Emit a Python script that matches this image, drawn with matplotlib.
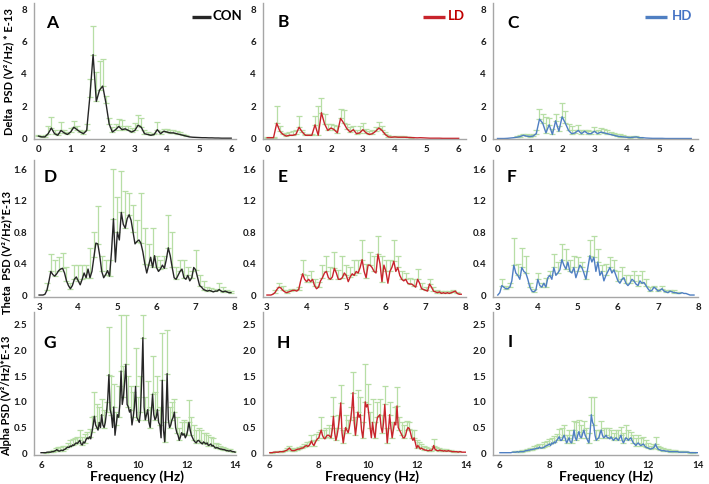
import numpy as np
import matplotlib
matplotlib.use('Agg')
import matplotlib.pyplot as plt
from matplotlib.lines import Line2D

plt.rcParams['font.family'] = ['Lato', 'DejaVu Sans']
plt.rcParams['font.weight'] = 'bold'

# ---------------- data ----------------
delta_freq = np.round(np.arange(61) * 0.1, 2)          # 0 .. 6 Hz
theta_freq = np.round(3.0 + np.arange(99) * 0.05, 2)   # 3 .. 7.9 Hz
alpha_freq = np.round(6.0 + np.arange(161) * 0.05, 2)  # 6 .. 14 Hz

con_delta = [0.15,0.10,0.10,0.30,0.65,0.30,0.20,0.50,0.35,0.25,
             0.40,0.70,0.55,0.40,0.30,0.50,2.60,5.20,2.30,3.00,
             3.25,2.20,0.90,0.40,0.55,0.75,0.55,0.60,0.50,0.40,
             0.50,0.82,0.70,0.30,0.25,0.20,0.25,0.55,0.30,0.45,
             0.40,0.35,0.35,0.30,0.25,0.20,0.15,0.10,0.08,0.07,
             0.06,0.05,0.05,0.04,0.04,0.03,0.03,0.02,0.02,0.02,0.02]
con_delta_top = [0.20,0.15,0.20,0.80,1.35,0.50,0.35,1.00,0.55,0.40,
                 0.65,1.10,0.80,0.55,0.45,0.90,3.70,7.00,4.10,4.80,
                 4.90,2.65,1.25,0.70,0.90,1.20,1.15,0.80,0.75,0.65,
                 0.95,1.45,1.25,0.50,0.40,0.30,0.35,1.00,0.45,0.60,
                 0.60,0.55,0.50,0.45,0.40,0.30,0.20,0.12,0.10,0.08,
                 0.07,0.06,0.06,0.05,0.05,0.04,0.04,0.03,0.03,0.03,0.03]

ld_delta = [0.05,0.05,0.05,0.95,0.45,0.25,0.15,0.20,0.20,0.25,
            0.70,0.40,0.20,0.20,0.20,0.85,0.20,1.60,0.90,0.50,
            0.65,0.55,0.35,1.25,0.95,0.60,0.40,0.55,0.30,0.35,
            0.55,0.35,0.25,0.30,0.45,0.65,0.50,0.25,0.10,0.08,
            0.10,0.08,0.08,0.08,0.07,0.06,0.05,0.04,0.05,0.04,
            0.03,0.02,0.02,0.02,0.02,0.01,0.01,0.01,0.01,0.01,0.01]
ld_delta_top = [0.10,0.12,0.10,2.00,0.75,0.35,0.35,0.40,0.45,0.50,
                1.40,0.50,0.30,0.30,0.30,1.40,2.00,2.50,1.50,0.90,
                0.90,0.85,0.75,1.80,1.75,0.90,0.70,0.80,0.50,0.75,
                0.95,0.60,0.45,0.50,0.70,1.00,0.80,0.40,0.20,0.15,
                0.15,0.15,0.15,0.15,0.12,0.10,0.08,0.07,0.07,0.06,
                0.05,0.04,0.03,0.03,0.03,0.02,0.02,0.02,0.02,0.02,0.02]

hd_delta = [0.00,0.00,0.00,0.01,0.03,0.05,0.08,0.12,0.20,0.15,
            0.12,0.15,0.30,1.20,0.95,0.35,0.85,0.25,1.10,0.45,
            1.35,0.95,0.50,0.30,0.35,0.50,0.30,0.45,0.30,0.30,
            0.45,0.30,0.40,0.35,0.30,0.25,0.20,0.15,0.12,0.10,
            0.08,0.06,0.08,0.10,0.05,0.05,0.03,0.02,0.01,0.01,
            0.01,0.01,0.00,0.00,0.00,0.00,0.00,0.00,0.00,0.00,0.00]
hd_delta_top = [0.00,0.00,0.00,0.02,0.05,0.08,0.15,0.20,0.30,0.25,
                0.20,0.30,0.50,1.85,1.50,1.35,1.30,0.60,1.55,0.80,
                2.20,1.70,0.90,0.80,0.55,0.85,0.55,0.55,0.50,0.45,
                0.70,0.55,0.65,0.60,0.50,0.40,0.35,0.30,0.25,0.20,
                0.15,0.12,0.15,0.15,0.10,0.08,0.05,0.03,0.02,0.02,
                0.02,0.01,0.00,0.00,0.00,0.00,0.00,0.00,0.00,0.00,0.00]

con_theta = [0.00,0.00,0.00,0.01,0.06,0.17,0.30,0.26,0.24,0.27,
             0.31,0.33,0.34,0.28,0.18,0.12,0.08,0.12,0.20,0.23,
             0.18,0.13,0.20,0.28,0.22,0.33,0.22,0.30,0.48,0.66,
             0.65,0.50,0.30,0.22,0.26,0.31,0.24,0.55,0.97,0.42,
             0.80,0.70,1.05,0.90,0.85,0.97,1.02,0.95,0.80,0.65,
             0.68,0.70,0.66,0.55,0.40,0.28,0.38,0.48,0.35,0.50,
             0.35,0.30,0.33,0.38,0.34,0.45,0.60,0.50,0.35,0.22,
             0.20,0.25,0.30,0.33,0.22,0.20,0.25,0.18,0.22,0.35,
             0.32,0.22,0.12,0.10,0.07,0.06,0.05,0.06,0.05,0.04,
             0.05,0.05,0.07,0.05,0.04,0.05,0.04,0.03,0.03]
con_theta_top = [0.01,0.01,0.15,0.52,0.45,0.48,0.53,0.35,0.15,0.38,
                 0.38,0.38,0.38,0.60,0.80,1.13,0.50,0.45,0.45,1.60,
                 1.25,1.57,1.32,1.30,1.15,0.95,1.30,0.85,0.65,0.85,
                 0.50,0.45,0.50,1.02,0.80,0.35,0.45,0.45,0.35,0.30,
                 0.57,0.25,0.18,0.10,0.09,0.08,0.15,0.10,0.07,0.05]

ld_theta = [0.00,0.00,0.00,0.01,0.03,0.07,0.10,0.09,0.06,0.04,
            0.03,0.04,0.05,0.06,0.06,0.05,0.07,0.18,0.27,0.20,
            0.17,0.20,0.17,0.20,0.12,0.08,0.10,0.18,0.22,0.28,
            0.30,0.22,0.20,0.23,0.34,0.28,0.20,0.20,0.22,0.28,
            0.25,0.17,0.23,0.27,0.25,0.30,0.28,0.35,0.45,0.30,
            0.22,0.38,0.38,0.35,0.30,0.28,0.52,0.40,0.17,0.38,
            0.30,0.15,0.30,0.35,0.43,0.30,0.35,0.25,0.20,0.18,
            0.20,0.15,0.14,0.14,0.12,0.10,0.20,0.15,0.08,0.07,
            0.06,0.05,0.14,0.10,0.05,0.04,0.03,0.04,0.02,0.03,
            0.02,0.03,0.02,0.03,0.04,0.05,0.02,0.01,0.01]
ld_theta_top = [0.01,0.01,0.06,0.15,0.12,0.06,0.08,0.08,0.10,0.44,
                0.25,0.30,0.20,0.16,0.38,0.50,0.35,0.55,0.32,0.49,
                0.38,0.35,0.45,0.45,0.70,0.40,0.55,0.50,0.75,0.50,
                0.45,0.45,0.70,0.50,0.30,0.28,0.22,0.20,0.33,0.15,
                0.10,0.20,0.10,0.06,0.05,0.05,0.05,0.07,0.04,0.02]

hd_theta = [0.00,0.03,0.12,0.10,0.08,0.08,0.10,0.18,0.38,0.28,
            0.25,0.20,0.35,0.30,0.28,0.20,0.10,0.05,0.04,0.06,
            0.20,0.12,0.10,0.15,0.10,0.22,0.25,0.20,0.35,0.25,
            0.28,0.32,0.45,0.38,0.33,0.42,0.30,0.28,0.35,0.22,
            0.30,0.38,0.35,0.28,0.20,0.35,0.50,0.42,0.48,0.30,
            0.42,0.25,0.30,0.18,0.25,0.30,0.35,0.28,0.32,0.25,
            0.18,0.15,0.20,0.22,0.15,0.12,0.15,0.20,0.18,0.14,
            0.12,0.18,0.15,0.16,0.12,0.08,0.05,0.06,0.10,0.08,
            0.05,0.06,0.08,0.05,0.04,0.03,0.05,0.04,0.03,0.03,
            0.02,0.02,0.03,0.02,0.02,0.01,0.00,0.00,0.00]
hd_theta_top = [0.01,0.20,0.12,0.15,0.72,0.40,0.60,0.50,0.15,0.08,
                0.28,0.15,0.22,0.30,0.52,0.42,0.65,0.58,0.45,0.50,
                0.48,0.42,0.30,0.70,0.75,0.58,0.38,0.40,0.48,0.45,
                0.30,0.35,0.25,0.25,0.30,0.25,0.30,0.20,0.10,0.12,
                0.08,0.12,0.07,0.07,0.06,0.04,0.04,0.02,0.01,0.00]

con_alpha = [0.01,0.01,0.01,0.01,0.01,0.02,0.02,0.02,0.02,0.03,
             0.03,0.04,0.05,0.07,0.05,0.04,0.05,0.06,0.05,0.07,
             0.08,0.10,0.12,0.11,0.14,0.13,0.16,0.15,0.18,0.20,
             0.19,0.22,0.25,0.18,0.16,0.22,0.20,0.26,0.30,0.28,
             0.32,0.28,0.42,0.55,0.72,0.55,0.50,0.45,0.60,0.50,
             0.75,0.55,0.50,0.60,0.80,1.05,1.53,0.85,0.75,0.50,
             0.90,0.35,0.55,0.75,0.70,0.95,1.60,0.95,1.10,1.40,
             1.73,0.95,0.90,0.80,0.85,0.55,0.70,0.90,1.30,0.70,
             0.65,0.60,0.80,1.40,2.25,0.90,0.65,0.75,0.85,0.60,
             0.50,0.80,1.15,0.75,0.65,0.70,0.85,0.60,0.55,0.30,
             1.42,0.45,0.22,0.70,1.55,0.65,0.50,0.55,0.65,0.70,
             0.80,0.50,0.40,0.35,0.25,0.32,0.40,0.35,0.38,0.30,
             0.35,0.45,0.60,0.45,0.35,0.30,0.25,0.22,0.20,0.24,
             0.25,0.22,0.20,0.18,0.22,0.20,0.18,0.20,0.15,0.16,
             0.18,0.14,0.15,0.12,0.10,0.11,0.10,0.09,0.08,0.08,
             0.07,0.07,0.06,0.05,0.05,0.04,0.05,0.04,0.03,0.03,
             0.02]
con_alpha_top = [0.02,0.02,0.03,0.03,0.04,0.06,0.10,0.12,0.12,0.14,
                 0.15,0.20,0.25,0.28,0.30,0.32,0.45,0.32,0.38,0.42,
                 0.48,0.70,1.20,0.95,0.90,1.05,0.85,1.00,2.45,1.50,
                 1.35,0.80,1.30,2.70,1.70,2.70,1.50,1.30,1.20,2.05,
                 1.10,1.50,2.70,1.10,1.40,0.90,1.90,1.20,1.50,0.90,
                 2.35,0.60,2.40,0.90,1.00,1.05,0.70,0.50,0.60,0.65,
                 0.60,1.03,0.70,0.55,0.45,0.50,0.45,0.40,0.40,0.35,
                 0.32,0.30,0.20,0.18,0.15,0.12,0.10,0.08,0.08,0.05,
                 0.03]

ld_alpha = [0.01,0.01,0.01,0.02,0.02,0.02,0.02,0.02,0.03,0.03,
            0.03,0.03,0.04,0.05,0.06,0.08,0.10,0.07,0.05,0.05,
            0.05,0.06,0.07,0.08,0.08,0.09,0.10,0.10,0.12,0.14,
            0.15,0.13,0.15,0.18,0.24,0.18,0.15,0.20,0.25,0.28,
            0.30,0.38,0.45,0.35,0.30,0.28,0.32,0.35,0.35,0.33,
            0.30,0.45,0.72,0.40,0.25,0.35,0.50,0.70,0.98,0.40,
            0.20,0.35,0.50,0.45,0.40,0.50,0.65,0.85,1.18,0.60,
            0.35,0.55,0.80,0.70,0.75,0.45,0.30,0.55,1.00,0.90,
            0.95,0.75,0.50,0.30,0.60,0.40,0.30,0.55,0.70,0.72,
            0.75,0.50,0.40,0.60,0.95,0.55,0.20,0.45,0.75,0.50,
            0.30,0.45,0.60,0.55,0.92,0.50,0.45,0.40,0.35,0.30,
            0.30,0.35,0.45,0.50,0.48,0.40,0.30,0.25,0.30,0.20,
            0.10,0.15,0.12,0.08,0.10,0.08,0.07,0.06,0.06,0.05,
            0.05,0.06,0.05,0.07,0.15,0.08,0.06,0.05,0.05,0.06,
            0.05,0.05,0.04,0.05,0.04,0.04,0.05,0.04,0.04,0.03,
            0.03,0.03,0.03,0.03,0.02,0.03,0.03,0.02,0.02,0.02,
            0.02]
ld_alpha_top = [0.02,0.03,0.03,0.04,0.05,0.05,0.07,0.10,0.15,0.10,
                0.08,0.10,0.12,0.14,0.18,0.22,0.22,0.35,0.25,0.38,
                0.42,0.70,0.45,0.50,0.55,0.50,1.10,0.50,0.75,1.32,
                0.45,0.75,0.65,0.90,1.58,0.70,1.24,1.10,0.60,1.74,
                1.34,0.80,1.05,0.60,1.00,1.05,0.75,1.30,0.50,1.00,
                0.60,0.90,1.28,0.70,0.60,0.55,0.62,0.60,0.45,0.45,
                0.25,0.22,0.18,0.15,0.12,0.10,0.10,0.28,0.12,0.10,
                0.09,0.08,0.08,0.07,0.06,0.05,0.05,0.04,0.04,0.03,
                0.03]

hd_alpha = [0.01,0.01,0.01,0.01,0.01,0.01,0.01,0.01,0.01,0.01,
            0.02,0.02,0.02,0.02,0.03,0.02,0.03,0.03,0.03,0.03,
            0.04,0.05,0.05,0.06,0.06,0.07,0.07,0.08,0.08,0.09,
            0.10,0.09,0.12,0.10,0.10,0.11,0.12,0.14,0.15,0.16,
            0.18,0.15,0.20,0.18,0.22,0.20,0.25,0.28,0.32,0.25,
            0.25,0.30,0.35,0.28,0.20,0.25,0.30,0.22,0.20,0.30,
            0.45,0.30,0.25,0.35,0.42,0.32,0.30,0.38,0.45,0.35,
            0.30,0.25,0.20,0.40,0.75,0.60,0.55,0.35,0.25,0.28,
            0.30,0.38,0.45,0.35,0.30,0.32,0.35,0.30,0.30,0.28,
            0.32,0.28,0.25,0.28,0.30,0.27,0.25,0.30,0.35,0.25,
            0.20,0.25,0.30,0.28,0.25,0.28,0.30,0.25,0.20,0.18,
            0.15,0.18,0.20,0.17,0.15,0.16,0.18,0.15,0.12,0.11,
            0.10,0.09,0.08,0.09,0.10,0.12,0.18,0.12,0.08,0.07,
            0.06,0.05,0.05,0.05,0.04,0.04,0.04,0.03,0.03,0.03,
            0.03,0.03,0.03,0.03,0.03,0.02,0.02,0.02,0.02,0.02,
            0.02,0.02,0.02,0.02,0.01,0.01,0.01,0.01,0.01,0.01,
            0.01]
hd_alpha_top = [0.02,0.02,0.02,0.02,0.02,0.03,0.04,0.05,0.05,0.06,
                0.07,0.08,0.10,0.11,0.14,0.16,0.18,0.17,0.22,0.24,
                0.27,0.30,0.33,0.38,0.48,0.50,0.55,0.35,0.45,0.35,
                0.63,0.60,0.65,0.55,0.62,0.50,0.40,1.10,1.10,0.45,
                0.45,0.62,0.50,0.50,0.50,0.45,0.40,0.45,0.45,0.52,
                0.40,0.55,0.45,0.42,0.35,0.30,0.35,0.30,0.32,0.25,
                0.20,0.15,0.18,0.31,0.15,0.12,0.10,0.09,0.08,0.07,
                0.06,0.06,0.05,0.05,0.04,0.04,0.03,0.03,0.03,0.02,
                0.02]

group_names = ['CON', 'LD', 'HD']
panel_letters = [['A', 'B', 'C'], ['D', 'E', 'F'], ['G', 'H', 'I']]
row_labels = ['Delta  PSD (V\u00b2/Hz) * E-13',
              'Theta  PSD (V\u00b2/Hz)*E-13',
              'Alpha PSD (V\u00b2/Hz)*E-13']
delta_xticks = [0, 1, 2, 3, 4, 5, 6]
theta_xticks = [3, 4, 5, 6, 7, 8]
alpha_xticks = [6, 8, 10, 12, 14]
delta_yticks = [0, 2, 4, 6, 8]
theta_yticks = [0, 0.4, 0.8, 1.2, 1.6]
theta_ytick_labels = ['0', '0.4', '0.8', '1.2', '1.6']
alpha_yticks = [0, 0.5, 1.0, 1.5, 2.0, 2.5]
alpha_ytick_labels = ['0', '0.5', '1.0', '1.5', '2.0', '2.5']

# ---------------- styling / layout ----------------
W, H = 709, 484
fig = plt.figure(figsize=(W / 100, H / 100), dpi=100)

line_colors = ['#262626', '#c8242c', '#4f7fc2']
text_colors = ['#000000', '#c00000', '#4472c4']
err_color = '#b7dea5'
spine_color = '#a6a6a6'

col_px = [(34, 236), (263, 466), (493, 698)]
row_px = [(3, 139), (160, 297), (312, 455)]
row_ylim = [(-0.03, 8.4), (-0.025, 1.716), (-0.035, 2.75)]
row_xlim = [[(-0.14, 6.15), (-0.13, 6.23), (-0.14, 6.21)],
            [(2.87, 8.03), (2.9, 8.02), (2.88, 8.0)],
            [(5.71, 14.04), (5.72, 14.02), (5.72, 14.02)]]


def fpx(x, y):
    return x / W, 1 - y / H


rows = [
    (delta_freq, 1, [(con_delta, con_delta_top), (ld_delta, ld_delta_top), (hd_delta, hd_delta_top)],
     delta_xticks, delta_yticks, [str(v) for v in delta_yticks], 0.04),
    (theta_freq, 2, [(con_theta, con_theta_top), (ld_theta, ld_theta_top), (hd_theta, hd_theta_top)],
     theta_xticks, theta_yticks, theta_ytick_labels, 0.012),
    (alpha_freq, 2, [(con_alpha, con_alpha_top), (ld_alpha, ld_alpha_top), (hd_alpha, hd_alpha_top)],
     alpha_xticks, alpha_yticks, alpha_ytick_labels, 0.015),
]

for r, (freq, step, series, xt, yt, ytl, thr) in enumerate(rows):
    top_px, bot_px = row_px[r]
    for c in range(3):
        l_px, r_px = col_px[c]
        ax = fig.add_axes([l_px / W, 1 - bot_px / H, (r_px - l_px) / W, (bot_px - top_px) / H])
        mean, top = series[c]
        mean = np.asarray(mean, float)
        top = np.asarray(top, float)
        fe = freq[::step]
        me = mean[::step]
        err = np.clip(top - me, 0, None)
        m = err > thr
        ax.errorbar(fe[m], me[m], yerr=[np.zeros(m.sum()), err[m]], fmt='none',
                    ecolor=err_color, elinewidth=0.9, capsize=2.2, capthick=0.9, zorder=1)
        ax.plot(freq, mean, color=line_colors[c], lw=1.0, zorder=2)
        ax.set_xlim(*row_xlim[r][c])
        ax.set_ylim(*row_ylim[r])
        ax.set_xticks(xt)
        ax.set_yticks(yt)
        ax.set_yticklabels(ytl)
        for s in ['top', 'right']:
            ax.spines[s].set_visible(False)
        for s in ['left', 'bottom']:
            ax.spines[s].set_color(spine_color)
            ax.spines[s].set_linewidth(1.0)
        ax.tick_params(axis='both', length=0, labelsize=7, colors='#1a1a1a')
        ax.tick_params(axis='y', pad=5)
        ax.tick_params(axis='x', pad=4)
        for lab in ax.get_xticklabels() + ax.get_yticklabels():
            lab.set_fontweight('bold')
        ax.patch.set_alpha(0)

# panel letters
letter_pos = [[(52, 23), (283, 22), (513, 23)],
              [(50, 177), (283, 177), (512, 177)],
              [(50, 343), (283, 343), (510, 342)]]
for r in range(3):
    for c in range(3):
        x, y = letter_pos[r][c]
        fig.text(*fpx(x, y), panel_letters[r][c], fontsize=12.5, fontweight='bold',
                 ha='center', va='center', color='#000000')

# row y-labels
ylabel_pos = [(9, 72), (6.5, 252), (6.5, 396)]
for r in range(3):
    fig.text(*fpx(*ylabel_pos[r]), row_labels[r], rotation=90, fontsize=8,
             fontweight='bold', ha='center', va='center', color='#000000')

# x-labels
for xc in [137, 372, 606]:
    fig.text(*fpx(xc, 477), 'Frequency (Hz)', fontsize=10, fontweight='bold',
             ha='center', va='center', color='#000000')

# legends
legend_pos = [((192, 211), 213), ((423, 445), 448), ((645, 667), 672)]
for c in range(3):
    (x0, x1), tx = legend_pos[c]
    y = 16.5
    fig.add_artist(Line2D([x0 / W, x1 / W], [1 - y / H, 1 - y / H],
                          color=line_colors[c], lw=2.4, solid_capstyle='butt'))
    fig.text(*fpx(tx, y), group_names[c], fontsize=9.5, fontweight='bold',
             ha='left', va='center', color=text_colors[c])

fig.savefig('out.png', dpi=100)
